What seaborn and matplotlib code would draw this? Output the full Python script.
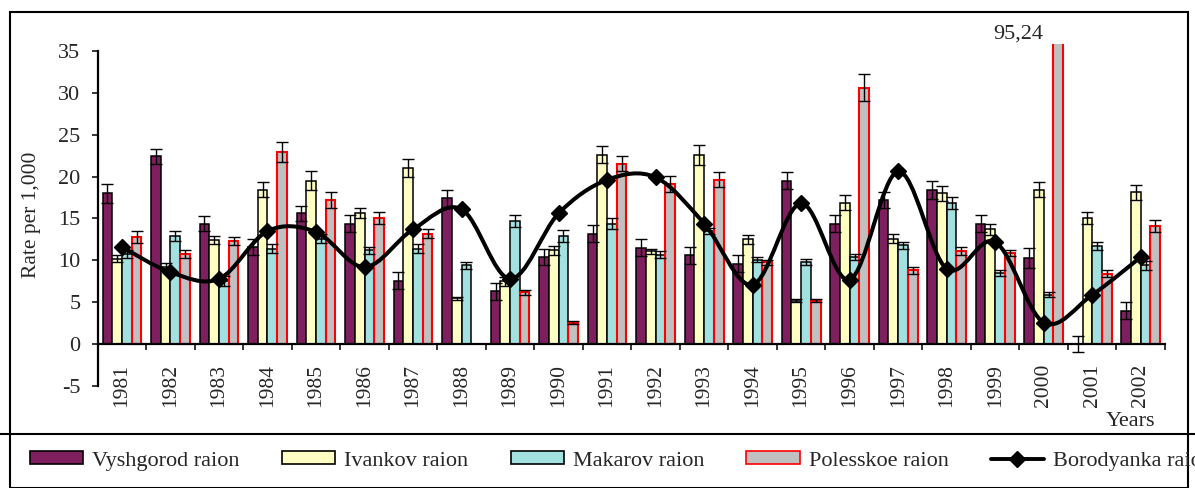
import numpy as np
import pandas as pd
import matplotlib.pyplot as plt
import matplotlib.patches as mpatches
import matplotlib.lines as mlines
from matplotlib.path import Path
import seaborn as sns

nan = np.nan

# DATA ------------
years = [str(y) for y in range(1981, 2003)]
vyshgorod = [18.0, 22.4, 14.4, 11.6, 15.6, 14.4, 7.6, 17.4, 6.3, 10.4, 13.2,
             11.5, 10.6, 9.6, 19.5, 14.4, 17.2, 18.4, 14.4, 10.3, 0.0, 4.0]
vyshgorod_err = [1.1, 0.9, 0.9, 0.9, 0.9, 1.0, 1.0, 1.0, 1.0, 1.0, 1.0,
                 1.0, 1.0, 1.0, 1.0, 1.0, 1.0, 1.1, 1.0, 1.2, 0.95, 1.0]
ivankov = [10.2, 9.2, 12.4, 18.4, 19.5, 15.6, 21.0, 5.5, 7.5, 11.2, 22.6,
           11.1, 22.6, 12.5, 5.2, 16.9, 12.6, 18.0, 13.7, 18.4, 15.1, 18.1]
ivankov_err = [0.4, 0.5, 0.5, 0.9, 1.1, 0.6, 1.1, 0.2, 0.5, 0.5, 1.0,
               0.3, 1.2, 0.5, 0.2, 0.9, 0.5, 0.9, 0.7, 0.9, 0.7, 0.9]
makarov = [10.8, 12.9, 7.6, 11.4, 12.6, 11.2, 11.4, 9.4, 14.7, 12.9, 14.4,
           10.7, 13.5, 10.1, 9.8, 10.4, 11.8, 16.8, 8.5, 5.9, 11.7, 9.4]
makarov_err = [0.5, 0.6, 0.6, 0.5, 0.5, 0.4, 0.5, 0.4, 0.7, 0.7, 0.6,
               0.4, 0.4, 0.3, 0.4, 0.4, 0.4, 0.7, 0.4, 0.3, 0.5, 0.5]
polesskoe = [12.8, 10.8, 12.3, 22.9, 17.2, 15.1, 13.2, nan, 6.2, 2.6, 21.5,
             19.1, 19.6, 9.8, 5.2, 30.6, 8.8, 11.1, 10.9, 95.24, 8.4, 14.1]
polesskoe_err = [0.7, 0.5, 0.5, 1.2, 0.9, 0.7, 0.5, nan, 0.3, 0.15, 0.9,
                 1.0, 0.9, 0.3, 0.2, 1.6, 0.4, 0.5, 0.4, 5.0, 0.4, 0.7]
borodyanka = [11.6, 8.6, 7.8, 13.5, 13.4, 9.2, 13.7, 16.1, 7.8, 15.6, 19.6,
              19.9, 14.4, 7.1, 16.8, 7.7, 20.6, 9.0, 12.2, 2.6, 5.9, 10.4]

bar_names = ['Vyshgorod raion', 'Ivankov raion', 'Makarov raion', 'Polesskoe raion']
line_name = 'Borodyanka raion'
bar_values = [vyshgorod, ivankov, makarov, polesskoe]
bar_errors = [vyshgorod_err, ivankov_err, makarov_err, polesskoe_err]

FACES = ['#7f1f5f', '#ffffc4', '#a3e0e0', '#c0c0c0']
EDGES = ['black', 'black', 'black', '#ff0000']

# STYLE ------------
sns.set_style('white')
plt.rcParams['font.family'] = ['Liberation Serif', 'DejaVu Serif']

W, H = 1195, 488
fig = plt.figure(figsize=(W / 100, H / 100), dpi=100)
ax = fig.add_axes([97.7 / W, 1 - 386.3 / H, (1165 - 97.7) / W, (386.3 - 43.5) / H])

rows = []
for name, vals in zip(bar_names, bar_values):
    for yr, v in zip(years, vals):
        rows.append({'year': yr, 'raion': name, 'value': v})
df = pd.DataFrame(rows)

sns.barplot(data=df, x='year', y='value', hue='raion', order=years,
            hue_order=bar_names, palette=FACES, errorbar=None, width=0.8,
            saturation=1, ax=ax, legend=False, zorder=1)

for cont, edge in zip(ax.containers, EDGES):
    for p in cont.patches:
        p.set_edgecolor(edge)
        p.set_linewidth(1.1 if edge == 'black' else 1.5)

# error bars at bar centres
xpos = np.arange(len(years))
n = len(bar_names)
for j, (vals, errs) in enumerate(zip(bar_values, bar_errors)):
    off = (j - (n - 1) / 2) * 0.8 / n
    ax.errorbar(xpos + off, vals, yerr=errs, fmt='none', ecolor='black',
                elinewidth=1.0, capsize=4.3, capthick=1.0, zorder=3)

# smoothed line (Catmull-Rom style bezier through the points)
pts = np.column_stack([xpos, borodyanka]).astype(float)
verts = [pts[0]]
codes = [Path.MOVETO]
for i in range(len(pts) - 1):
    p0 = pts[max(i - 1, 0)]
    p1 = pts[i]
    p2 = pts[i + 1]
    p3 = pts[min(i + 2, len(pts) - 1)]
    verts += [p1 + (p2 - p0) / 6, p2 - (p3 - p1) / 6, p2]
    codes += [Path.CURVE4] * 3
ax.add_patch(mpatches.PathPatch(Path(verts, codes), facecolor='none',
                                edgecolor='black', lw=2.9, zorder=4,
                                capstyle='round', joinstyle='round'))
ax.plot(xpos, borodyanka, linestyle='none', marker='D', ms=8, color='black', zorder=5)

# AXES ------------
ymax = 35.85
ax.set_xlim(-0.5, len(years) - 0.5)
ax.set_ylim(-5, ymax)
ax.set_xlabel('')
ax.set_ylabel('')
for s in ['top', 'right']:
    ax.spines[s].set_visible(False)
ax.spines['bottom'].set_position(('data', 0))
ax.spines['left'].set_bounds(-5, 35)
for s in ['bottom', 'left']:
    ax.spines[s].set_linewidth(1.6)
    ax.spines[s].set_color('black')

ax.set_yticks(range(-5, 40, 5))
ax.set_yticklabels([str(v) for v in range(-5, 40, 5)], fontsize=16)
ax.tick_params(axis='y', direction='out', length=4.5, width=1.3, pad=8, left=True)

ax.set_xticks(np.arange(-0.5, len(years), 1.0))
ax.set_xticklabels([])
ax.set_xticks(xpos, minor=True)
ax.set_xticklabels(years, minor=True, rotation=90, fontsize=15.5)
ax.tick_params(axis='x', which='major', direction='out', length=4.5, width=1.3, bottom=True)
ax.tick_params(axis='x', which='minor', length=0, pad=14)
ax.grid(False)

# clipped value label
ax.text(years.index('2000') - 0.52, ymax, '95,24', ha='center', va='bottom',
        fontsize=16, clip_on=False)

fig.text(32 / W, 1 - 215 / H, 'Rate per 1,000', rotation=90, ha='center',
         va='center', fontsize=15.5)
fig.text(1155 / W, 1 - 422 / H, 'Years', ha='right', va='center', fontsize=16)

# FRAMES ------------
fig.add_artist(mpatches.Rectangle((10 / W, 0), (1188 - 10) / W, 1 - 12 / H,
                                  transform=fig.transFigure, facecolor='none',
                                  edgecolor='black', lw=1.5, clip_on=False))
fig.add_artist(mlines.Line2D([0, 1], [1 - 434 / H] * 2, transform=fig.transFigure,
                             color='black', lw=1.5))

# LEGEND ------------
handles = [mpatches.Patch(facecolor=f, edgecolor=e, lw=1.2, label=nm)
           for f, e, nm in zip(FACES, EDGES, bar_names)]
handles.append(mlines.Line2D([], [], color='black', lw=2.8, marker='D', ms=8,
                             label=line_name))
fig.legend(handles=handles, loc='center left', bbox_to_anchor=(30 / W, 1 - 461 / H),
           ncol=5, frameon=False, fontsize=16, handlelength=2.4, handleheight=0.5,
           handletextpad=0.4, columnspacing=1.9, borderpad=0, borderaxespad=0)

fig.savefig('out.png', dpi=100)
